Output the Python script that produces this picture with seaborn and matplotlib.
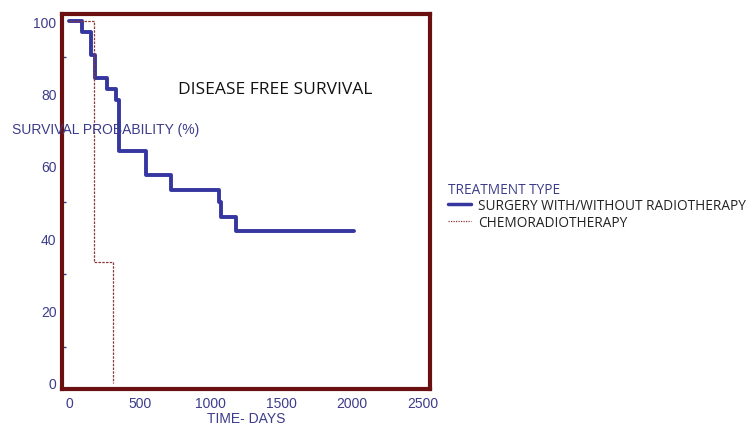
import numpy as np
import pandas as pd
import seaborn as sns
import matplotlib
matplotlib.use("Agg")
from matplotlib import pyplot as plt
from matplotlib.lines import Line2D
from matplotlib.ticker import MultipleLocator

# Kaplan-Meier steps
surgery_days = [0, 92, 154, 184, 267, 331, 356, 543, 722, 1057, 1076, 1176, 2010]
surgery_surv = [100, 96.9, 90.6, 84.4, 81.2, 78.1, 64.1, 57.5, 53.4, 50.0, 45.9, 42.1, 42.1]
chemo_days = [0, 179, 307]
chemo_surv = [100, 33.3, 0]

labels = ["SURGERY WITH/WITHOUT RADIOTHERAPY", "CHEMORADIOTHERAPY"]
x_ticks = [0, 500, 1000, 1500, 2000, 2500]
y_ticks = [0, 20, 40, 60, 80, 100]

surgery = pd.DataFrame({"days": surgery_days, "surv": surgery_surv})
chemo = pd.DataFrame({"days": chemo_days, "surv": chemo_surv})

navy = "#3c3c8c"
blue = "#3636a0"
maroon = "#6b1010"
chemo_col = "#8a3a3a"

sns.set_style("white")
plt.rcParams["font.family"] = ["Liberation Sans", "DejaVu Sans"]

fig = plt.figure(figsize=(7.55, 4.35), dpi=100)
ax = fig.add_axes([0.0821, 0.1034, 0.4874, 0.8621])

sns.lineplot(data=surgery, x="days", y="surv", drawstyle="steps-post",
             estimator=None, color=blue, linewidth=2.8, ax=ax)
sns.lineplot(data=chemo, x="days", y="surv", drawstyle="steps-post",
             estimator=None, color=chemo_col, linewidth=0.9, linestyle=(0, (2, 1)), ax=ax)

ax.set_xlim(-50, 2550)
ax.set_ylim(-1.7, 102)
ax.set_xticks(x_ticks)
ax.set_yticks(y_ticks)
ax.yaxis.set_minor_locator(MultipleLocator(10))
ax.tick_params(axis="x", direction="in", length=5, width=1.5, color=maroon,
               labelcolor=navy, labelsize=10, pad=5)
ax.tick_params(axis="y", which="major", direction="out", length=3, width=1.2, color=navy,
               labelcolor=navy, labelsize=10, pad=1)
ax.tick_params(axis="y", which="minor", direction="in", length=3, width=1, color=navy, left=True)
for s in ax.spines.values():
    s.set_color(maroon)
    s.set_linewidth(3)

ax.set_xlabel("TIME- DAYS", color=navy, fontsize=10, labelpad=1)
ax.set_ylabel("")
fig.text(12 / 755, 1 - 130 / 435, "SURVIVAL PROBABILITY (%)", color=navy, fontsize=10,
         va="center", ha="left")
ax.text(772, 81.2, "DISEASE FREE SURVIVAL", fontsize=12.5, color="#111111",
        family=["Open Sans", "DejaVu Sans"], va="center", ha="left")

handles = [Line2D([], [], color=blue, linewidth=2.5),
           Line2D([], [], color=chemo_col, linewidth=0.9, linestyle=(0, (1, 1)))]
leg = fig.legend(handles, labels, title="TREATMENT TYPE", loc="upper left",
                 bbox_to_anchor=(438 / 755, 1 - 173 / 435), frameon=False,
                 prop={"family": ["Open Sans", "DejaVu Sans"], "size": 9.8},
                 handlelength=1.7, handletextpad=0.55, labelspacing=0.12,
                 borderpad=0.2, alignment="left")
leg.get_title().set_color(navy)
leg.get_title().set_fontfamily(["Open Sans", "DejaVu Sans"])
leg.get_title().set_fontsize(9.8)
for t in leg.get_texts():
    t.set_color("#222222")

fig.savefig("out.png", dpi=100)
